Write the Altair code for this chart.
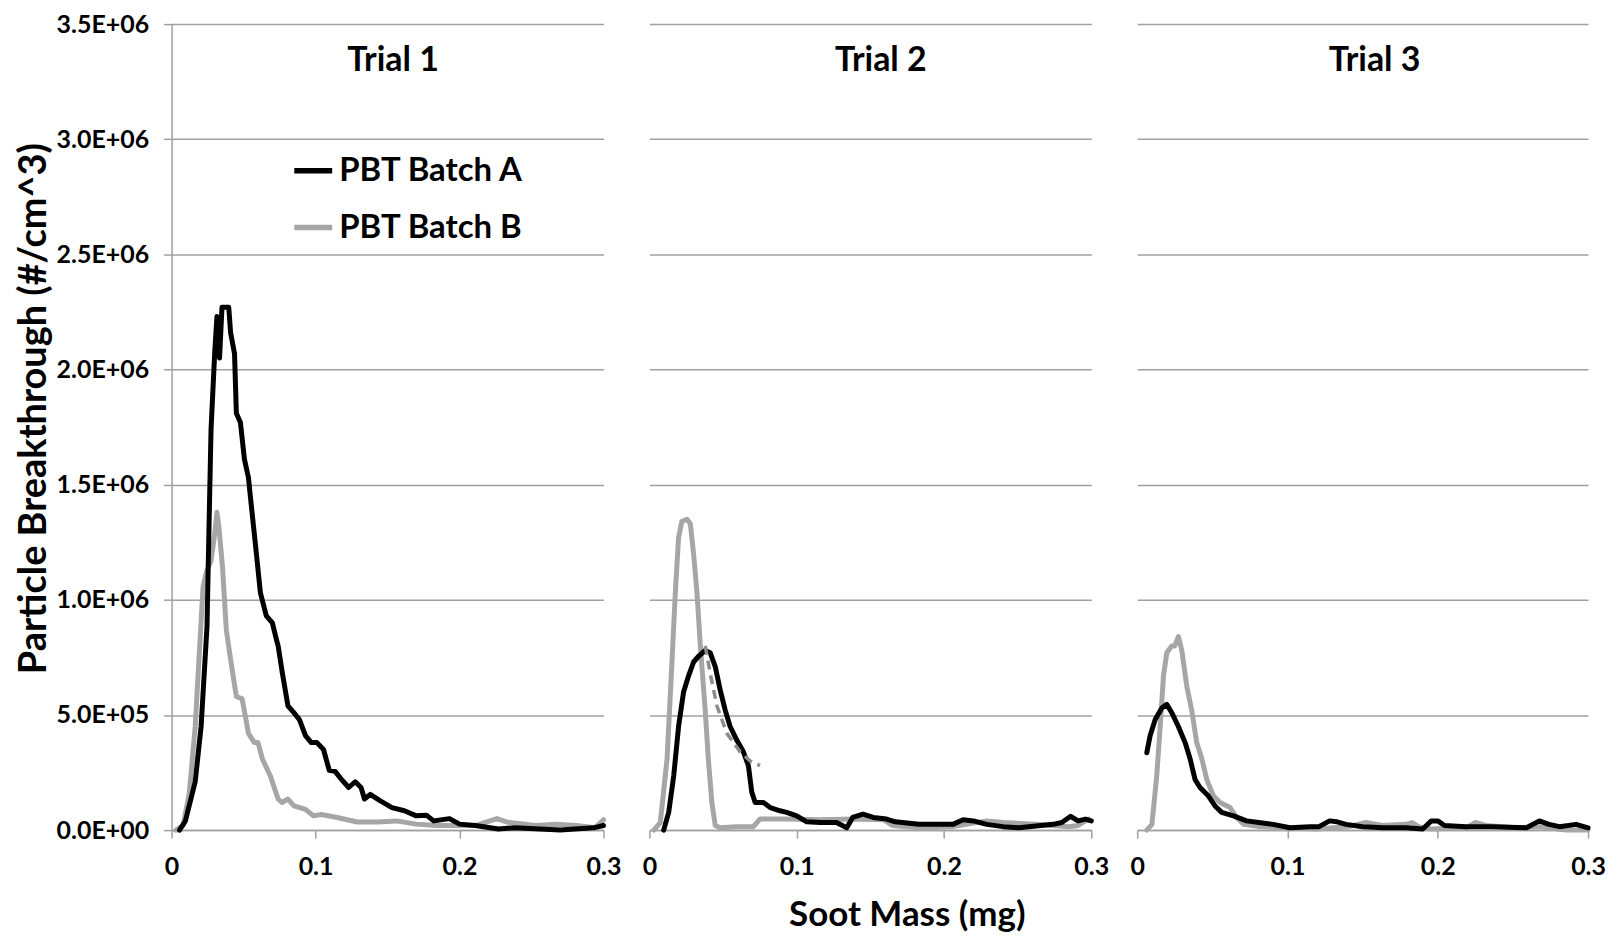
import altair as alt
import pandas as pd

# ---------------- data ----------------
series_names = ["PBT Batch A", "PBT Batch B"]
trial_names = ["Trial 1", "Trial 2", "Trial 3"]
x_ticks = [0, 0.1, 0.2, 0.3]
y_ticks = [0, 500000, 1000000, 1500000, 2000000, 2500000, 3000000, 3500000]

# Trial 1 (y in units of 1E+06 #/cm^3)
t1_a_x = [0.0055, 0.0096, 0.0164, 0.0205, 0.0246, 0.026, 0.0274, 0.030, 0.0315, 0.0333,
          0.035, 0.0397, 0.041, 0.0437, 0.045, 0.0478, 0.0506, 0.0534, 0.0547, 0.0589,
          0.0617, 0.0658, 0.070, 0.0727, 0.074, 0.077, 0.0808, 0.0849, 0.0888, 0.093,
          0.097, 0.101, 0.1055, 0.1095, 0.1136, 0.118, 0.123, 0.1275, 0.1316, 0.134,
          0.138, 0.145, 0.153, 0.1617, 0.17, 0.177, 0.182, 0.193, 0.2, 0.211,
          0.227, 0.238, 0.27, 0.293, 0.3]
t1_a_y = [0, 0.04, 0.21, 0.45, 0.885, 1.32, 1.74, 2.08, 2.23, 2.05,
          2.27, 2.27, 2.16, 2.07, 1.81, 1.77, 1.61, 1.53, 1.45, 1.20,
          1.03, 0.93, 0.90, 0.83, 0.80, 0.68, 0.54, 0.51, 0.48, 0.41,
          0.38, 0.38, 0.35, 0.26, 0.255, 0.22, 0.185, 0.21, 0.185, 0.135,
          0.155, 0.127, 0.098, 0.084, 0.062, 0.065, 0.04, 0.05, 0.026, 0.02,
          0.005, 0.01, 0.0, 0.01, 0.02]
t1_b_x = [0.003, 0.008, 0.0123, 0.0164, 0.019, 0.0219, 0.0246, 0.0274, 0.030, 0.0315,
          0.0328, 0.0354, 0.038, 0.041, 0.045, 0.049, 0.0534, 0.0575, 0.06, 0.063,
          0.0686, 0.074, 0.0766, 0.0808, 0.085, 0.093, 0.0985, 0.104, 0.115, 0.129,
          0.143, 0.156, 0.17, 0.184, 0.211, 0.226, 0.233, 0.253, 0.267, 0.281,
          0.294, 0.3]
t1_b_y = [0, 0.02, 0.16, 0.45, 0.74, 1.06, 1.13, 1.17, 1.29, 1.38,
          1.32, 1.14, 0.87, 0.74, 0.58, 0.57, 0.42, 0.38, 0.38, 0.31,
          0.235, 0.135, 0.12, 0.135, 0.105, 0.09, 0.062, 0.068, 0.055, 0.035,
          0.035, 0.04, 0.026, 0.02, 0.02, 0.05, 0.035, 0.02, 0.025, 0.02,
          0.01, 0.045]

# Trial 2
t2_a_x = [0.0097, 0.0131, 0.0165, 0.0198, 0.0232, 0.0266, 0.030, 0.0334, 0.0379, 0.0413,
          0.0447, 0.048, 0.0515, 0.0548, 0.0594, 0.0638, 0.0672, 0.0695, 0.0718, 0.0774,
          0.082, 0.0887, 0.0932, 0.1, 0.1068, 0.116, 0.127, 0.134, 0.138, 0.145,
          0.152, 0.161, 0.167, 0.183, 0.206, 0.213, 0.22, 0.229, 0.24, 0.251,
          0.274, 0.28, 0.286, 0.291, 0.296, 0.3]
t2_a_y = [0, 0.077, 0.235, 0.45, 0.6, 0.67, 0.73, 0.755, 0.78, 0.77,
          0.71, 0.61, 0.52, 0.45, 0.39, 0.34, 0.28, 0.165, 0.12, 0.12,
          0.098, 0.084, 0.077, 0.062, 0.036, 0.033, 0.033, 0.01, 0.055, 0.069,
          0.055, 0.048, 0.036, 0.025, 0.025, 0.045, 0.04, 0.025, 0.015, 0.01,
          0.025, 0.033, 0.06, 0.04, 0.048, 0.04]
t2_b_x = [0.003, 0.0074, 0.012, 0.0154, 0.0176, 0.0198, 0.022, 0.0255, 0.0278, 0.030,
          0.0323, 0.0345, 0.0379, 0.040, 0.0424, 0.0447, 0.048, 0.059, 0.0706, 0.075,
          0.093, 0.116, 0.138, 0.159, 0.165, 0.183, 0.206, 0.229, 0.24, 0.262,
          0.285, 0.291, 0.298]
t2_b_y = [0, 0.033, 0.31, 0.74, 1.03, 1.27, 1.34, 1.35, 1.33, 1.20,
          1.03, 0.81, 0.52, 0.31, 0.12, 0.02, 0.01, 0.015, 0.015, 0.048,
          0.048, 0.045, 0.048, 0.045, 0.02, 0.01, 0.015, 0.04, 0.033, 0.025,
          0.015, 0.02, 0.048]
# dashed decay curve drawn over Trial 2, Batch A
t2_fit_x = [0.0379, 0.0413, 0.0458, 0.0526, 0.0616, 0.0684, 0.0751]
t2_fit_y = [0.80, 0.68, 0.54, 0.42, 0.34, 0.30, 0.28]

# Trial 3
t3_a_x = [0.0064, 0.0086, 0.012, 0.0164, 0.0197, 0.023, 0.0274, 0.0319, 0.0352, 0.0385,
          0.0418, 0.0473, 0.0518, 0.0562, 0.064, 0.0728, 0.081, 0.0905, 0.1016, 0.115,
          0.121, 0.128, 0.133, 0.139, 0.15, 0.1636, 0.179, 0.19, 0.1957, 0.2,
          0.2045, 0.219, 0.236, 0.259, 0.2676, 0.274, 0.281, 0.292, 0.3]
t3_a_y = [0.336, 0.41, 0.48, 0.53, 0.546, 0.51, 0.45, 0.38, 0.31, 0.22,
          0.185, 0.149, 0.105, 0.077, 0.062, 0.04, 0.033, 0.025, 0.01, 0.015,
          0.015, 0.04, 0.036, 0.025, 0.015, 0.01, 0.01, 0.005, 0.04, 0.04,
          0.02, 0.015, 0.015, 0.01, 0.04, 0.025, 0.015, 0.025, 0.01]
t3_b_x = [0.0064, 0.0098, 0.013, 0.0153, 0.0175, 0.0197, 0.023, 0.025, 0.0274, 0.0297,
          0.033, 0.0363, 0.0396, 0.043, 0.0463, 0.0507, 0.0551, 0.0618, 0.0662, 0.071,
          0.081, 0.097, 0.119, 0.141, 0.152, 0.163, 0.179, 0.183, 0.187, 0.196,
          0.219, 0.225, 0.232, 0.252, 0.268, 0.285, 0.3]
t3_b_y = [0, 0.025, 0.235, 0.45, 0.67, 0.77, 0.80, 0.80, 0.84, 0.78,
          0.625, 0.52, 0.38, 0.31, 0.22, 0.149, 0.12, 0.098, 0.055, 0.025,
          0.015, 0.01, 0.005, 0.015, 0.033, 0.02, 0.025, 0.033, 0.015, 0.005,
          0.01, 0.033, 0.02, 0.01, 0.015, 0, 0]

# ---------------- tables ----------------
rows = []


def add(trial, series, xs, ys):
    for a, b in zip(xs, ys):
        rows.append({"trial": trial, "series": series, "mass": a, "pbt": b * 1e6})


# Batch B first so Batch A is drawn on top
add("Trial 1", series_names[1], t1_b_x, t1_b_y)
add("Trial 2", series_names[1], t2_b_x, t2_b_y)
add("Trial 3", series_names[1], t3_b_x, t3_b_y)
add("Trial 1", series_names[0], t1_a_x, t1_a_y)
add("Trial 2", series_names[0], t2_a_x, t2_a_y)
add("Trial 3", series_names[0], t3_a_x, t3_a_y)
df = pd.DataFrame(rows)
fit_df = pd.DataFrame({"mass": t2_fit_x, "pbt": [v * 1e6 for v in t2_fit_y]})

# ---------------- styling ----------------
FONT = "Lato"
GRID = "#a0a0a0"
LABEL_SIZE = 25

y_label_expr = ("datum.value == 0 ? '0.0E+00' : (datum.value < 1000000 ? "
                "format(datum.value / 100000, '.1f') + 'E+05' : "
                "format(datum.value / 1000000, '.1f') + 'E+06')")
x_label_expr = "datum.value == 0 ? '0' : format(datum.value, '.1f')"

x_scale = alt.Scale(domain=[0, 0.3], nice=False, zero=False)
y_scale = alt.Scale(domain=[0, 3500000], nice=False)
color_scale = alt.Scale(domain=series_names, range=["#000000", "#a6a6a6"])

legend = alt.Legend(
    title=None, orient="none", legendX=120, legendY=125,
    symbolType="stroke", symbolSize=1444, symbolStrokeWidth=5.5,
    labelFont=FONT, labelFontSize=33, labelFontWeight="bold", labelColor="black",
    labelOffset=4, rowPadding=18, labelLimit=400,
)


def panel(idx, width, title_px):
    trial = trial_names[idx]
    common_x = dict(values=x_ticks, labelExpr=x_label_expr, grid=False,
                    domainColor=GRID, domainWidth=1.5, tickColor=GRID, tickSize=8,
                    tickWidth=1.5, labelFont=FONT, labelFontSize=LABEL_SIZE,
                    labelFontWeight="bold", labelColor="black", labelPadding=17,
                    labelFlush=False, labelOverlap=False)
    if idx == 1:
        x_axis = alt.Axis(title="Soot Mass (mg)", titleFont=FONT, titleFontSize=35,
                          titleFontWeight="bold", titleColor="black", titleX=258,
                          titleY=85, titleAlign="center", titleBaseline="middle",
                          **common_x)
    else:
        x_axis = alt.Axis(title=None, **common_x)
    if idx == 0:
        y_axis = alt.Axis(values=y_ticks, labelExpr=y_label_expr, grid=True,
                          gridColor=GRID, gridWidth=1.5, domain=True, domainColor=GRID,
                          domainWidth=1.5, ticks=True, tickColor=GRID, tickSize=8,
                          tickWidth=1.5, labelFont=FONT, labelFontSize=LABEL_SIZE,
                          labelFontWeight="bold", labelColor="black", labelPadding=15,
                          labelFlush=False,
                          title="Particle Breakthrough (#/cm^3)", titleFont=FONT,
                          titleFontSize=38, titleFontWeight="bold", titleColor="black",
                          titleX=-137, titleY=385, titleAngle=270, titleAlign="center",
                          titleBaseline="middle")
    else:
        y_axis = alt.Axis(values=y_ticks, grid=True, gridColor=GRID, gridWidth=1.5,
                          domain=False, ticks=False, labels=False, title=None)

    x_enc = alt.X("mass:Q", scale=x_scale, axis=x_axis)
    y_enc = alt.Y("pbt:Q", scale=y_scale, axis=y_axis)

    lines = alt.Chart(df).transform_filter(alt.datum.trial == trial).mark_line(
        strokeWidth=5, strokeJoin="round", strokeCap="round"
    ).encode(
        x=x_enc, y=y_enc,
        color=alt.Color("series:N", scale=color_scale, legend=legend),
        detail="series:N",
    )
    label = alt.Chart(pd.DataFrame({"t": [trial]})).mark_text(
        font=FONT, fontSize=34, fontWeight="bold", color="black",
        align="center", baseline="middle"
    ).encode(text="t:N", x=alt.value(title_px), y=alt.value(37))

    layers = [lines]
    if idx == 1:
        fit = alt.Chart(fit_df).mark_line(
            color="#8c8c8c", strokeWidth=3.5, strokeDash=[9, 6]
        ).encode(x=x_enc, y=y_enc)
        layers.append(fit)
    layers.append(label)
    return alt.layer(*layers).properties(width=width, height=808)


chart = alt.hconcat(
    panel(0, 433, 222),
    panel(1, 443, 232),
    panel(2, 452, 238),
    spacing=46, bounds="flush",
).properties(
    padding={"left": 8, "top": 3, "right": 5, "bottom": 5},
    background="white",
).configure_view(stroke=None)

chart.save("out.html", embed_options={"renderer": "svg", "actions": False})
